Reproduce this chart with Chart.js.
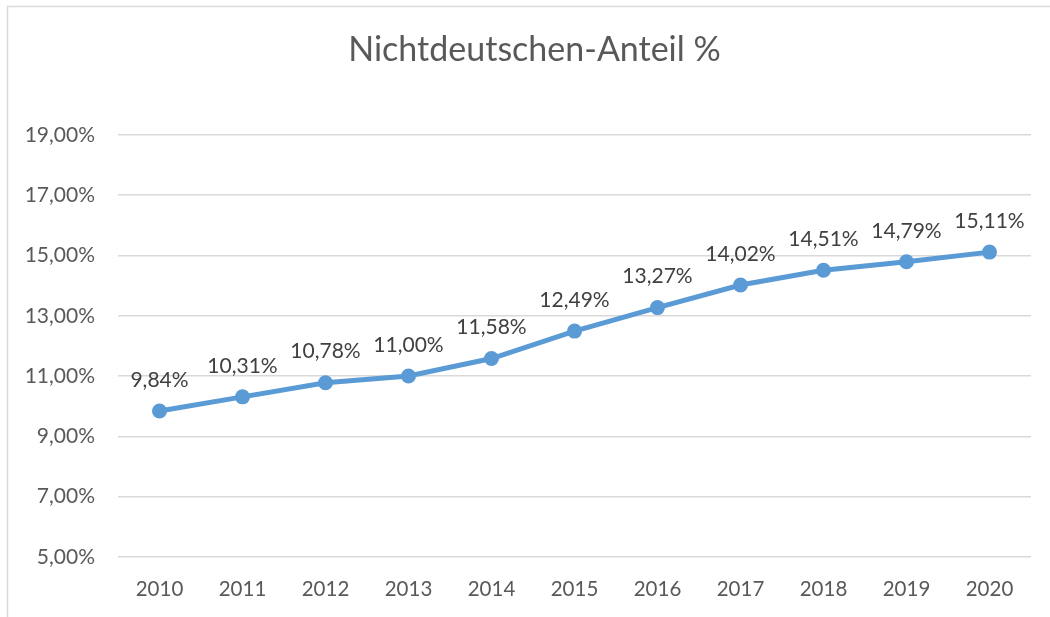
<!DOCTYPE html>
<html><head><meta charset="utf-8">
<script src="https://cdn.jsdelivr.net/npm/chart.js@4"></script>
<style>html,body{margin:0;padding:0;background:#fff;}#wrap{width:1050px;height:617px;position:relative;}</style>
</head><body><div id="wrap"><canvas id="c" width="1050" height="617"></canvas></div>
<script>
const years = ['2010','2011','2012','2013','2014','2015','2016','2017','2018','2019','2020'];
const shares = [9.84,10.31,10.78,11.00,11.58,12.49,13.27,14.02,14.51,14.79,15.11];
const yTicks = [5,7,9,11,13,15,17,19];
const titleText = 'Nichtdeutschen-Anteil %';
const FONT = 'Lato, Carlito, Calibri, "Open Sans", sans-serif';
const fmt = v => v.toFixed(2).replace('.', ',') + '%';

const framePlugin = {
  id: 'frame',
  beforeDraw(chart) {
    const ctx = chart.ctx;
    ctx.save();
    ctx.fillStyle = '#fff';
    ctx.fillRect(0, 0, chart.width, chart.height);
    ctx.strokeStyle = '#d9d9d9';
    ctx.lineWidth = 1.5;
    ctx.strokeRect(7.5, 6.5, 1100, 700);
    ctx.restore();
  },
  afterLayout(chart) {
    if (chart.titleBlock) chart.titleBlock.left = 38;
  }
};
const labelPlugin = {
  id: 'vlabels',
  afterDatasetsDraw(chart) {
    const ctx = chart.ctx;
    const meta = chart.getDatasetMeta(0);
    ctx.save();
    ctx.font = '21px ' + FONT;
    ctx.fillStyle = '#404040';
    ctx.textAlign = 'center';
    ctx.textBaseline = 'middle';
    meta.data.forEach((pt, i) => {
      ctx.fillText(fmt(shares[i]), pt.x, pt.y - 31);
    });
    ctx.restore();
  }
};

new Chart(document.getElementById('c'), {
  type: 'line',
  data: { labels: years, datasets: [{
    data: shares,
    borderColor: '#5b9bd5', backgroundColor: '#5b9bd5',
    borderWidth: 5, pointRadius: 7.5, pointHoverRadius: 7.5,
    pointBackgroundColor: '#5b9bd5', pointBorderWidth: 0, tension: 0
  }]},
  options: {
    responsive: false, animation: false, devicePixelRatio: 1,
    layout: { padding: { left: 0, right: 19, top: 0, bottom: 0 } },
    plugins: {
      legend: { display: false }, tooltip: { enabled: false },
      title: { display: true, text: titleText, color: '#595959',
        font: { family: FONT, size: 34, weight: 'normal' },
        lineHeight: 1.2,
        padding: { top: 30, bottom: 64 } }
    },
    scales: {
      x: {
        offset: true,
        grid: { display: false, drawTicks: false },
        border: { display: false },
        ticks: { color: '#595959', font: { family: FONT, size: 20.5 }, padding: 20, maxRotation: 0 },
        afterFit(s) { s.height = 60; }
      },
      y: {
        min: 5, max: 19,
        afterBuildTicks(s) { s.ticks = yTicks.map(v => ({ value: v })); },
        grid: { color: '#d9d9d9', lineWidth: 1.5, drawTicks: false },
        border: { display: false },
        ticks: { color: '#595959', font: { family: FONT, size: 21 }, padding: 23,
          callback: v => fmt(v) },
        afterFit(s) { s.width = 118; }
      }
    }
  },
  plugins: [framePlugin, labelPlugin]
});
</script></body></html>
